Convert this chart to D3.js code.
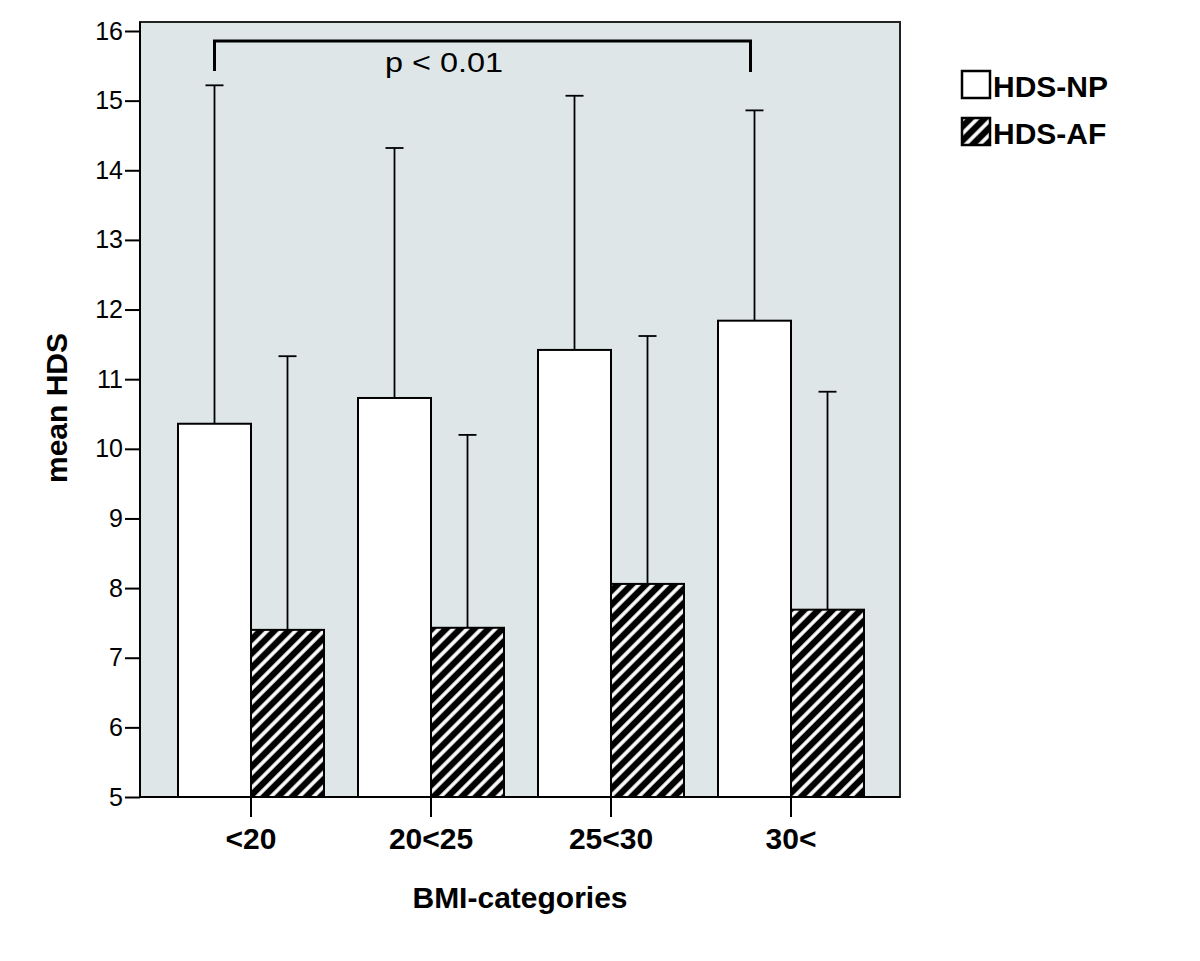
<!DOCTYPE html>
<html>
<head>
<meta charset="utf-8">
<script src="https://cdn.jsdelivr.net/npm/d3@7"></script>
<style>
  html, body { margin: 0; padding: 0; background: #ffffff; }
  svg { display: block; }
  text { font-family: "Liberation Sans", Arial, Helvetica, sans-serif; }
</style>
</head>
<body>
<svg id="chart" width="1200" height="961"></svg>
<script>
// ---- data ----
const categories = ["<20", "20<25", "25<30", "30<"];
const seriesNames = ["HDS-NP", "HDS-AF"];
const npMean  = [10.36, 10.73, 11.42, 11.84];
const npUpper = [15.22, 14.32, 15.07, 14.86];
const afMean  = [7.40, 7.43, 8.06, 7.69];
const afUpper = [11.33, 10.20, 11.62, 10.82];
const yTicks  = [5, 6, 7, 8, 9, 10, 11, 12, 13, 14, 15, 16];
const pLabel  = "p < 0.01";
const xTitle  = "BMI-categories";
const yTitle  = "mean HDS";

// ---- layout ----
const svg = d3.select("#chart");
const plot = { left: 140, right: 900, top: 22, bottom: 797 };
const y = d3.scaleLinear().domain([5, 16]).range([797, 31]);
const x = d3.scaleBand().domain(categories).range([161, 881]).paddingInner(0).paddingOuter(0);
const barW = 73;

// hatch pattern
const defs = svg.append("defs");
const pat = defs.append("pattern")
  .attr("id", "hatch").attr("patternUnits", "userSpaceOnUse")
  .attr("width", 10).attr("height", 10)
  .attr("patternTransform", "rotate(45)");
pat.append("rect").attr("width", 10).attr("height", 10).attr("fill", "#000");
pat.append("line").attr("x1", 5).attr("x2", 5).attr("y1", -1).attr("y2", 11)
  .attr("stroke", "#fff").attr("stroke-width", 3.6);

// plot background
svg.append("rect")
  .attr("x", plot.left).attr("y", plot.top)
  .attr("width", plot.right - plot.left).attr("height", plot.bottom - plot.top)
  .attr("fill", "#dee6e8").attr("stroke", "#222").attr("stroke-width", 2);

const data = categories.map((c, i) => ({
  cat: c,
  np: npMean[i], npU: npUpper[i],
  af: afMean[i], afU: afUpper[i]
}));

const center = c => x(c) + x.bandwidth() / 2;

// error bars (drawn first, bars cover lower part)
const errG = svg.append("g").attr("stroke", "#000").attr("stroke-width", 1.8);
data.forEach(d => {
  const pairs = [
    { cx: center(d.cat) - barW / 2, m: d.np, u: d.npU },
    { cx: center(d.cat) + barW / 2, m: d.af, u: d.afU }
  ];
  pairs.forEach(p => {
    errG.append("line").attr("x1", p.cx).attr("x2", p.cx).attr("y1", y(p.m)).attr("y2", y(p.u));
    errG.append("line").attr("x1", p.cx - 9).attr("x2", p.cx + 9).attr("y1", y(p.u)).attr("y2", y(p.u));
  });
});

// bars
svg.append("g").selectAll("rect.np").data(data).join("rect")
  .attr("x", d => center(d.cat) - barW)
  .attr("y", d => y(d.np))
  .attr("width", barW)
  .attr("height", d => y(5) - y(d.np))
  .attr("fill", "#fff").attr("stroke", "#000").attr("stroke-width", 2);

svg.append("g").selectAll("rect.af").data(data).join("rect")
  .attr("x", d => center(d.cat))
  .attr("y", d => y(d.af))
  .attr("width", barW)
  .attr("height", d => y(5) - y(d.af))
  .attr("fill", "url(#hatch)").attr("stroke", "#000").attr("stroke-width", 2);

// y axis
const yAxis = svg.append("g").attr("transform", `translate(${plot.left},0)`)
  .call(d3.axisLeft(y).tickValues(yTicks).tickSize(15).tickPadding(2).tickFormat(d3.format("d")));
yAxis.select(".domain").remove();
yAxis.selectAll(".tick line").attr("stroke", "#000").attr("stroke-width", 2);
yAxis.selectAll(".tick text").attr("font-size", 25).attr("fill", "#000")
  .style("font-family", '"Liberation Sans", Arial, sans-serif');

// x axis
const xAxis = svg.append("g").attr("transform", `translate(0,${plot.bottom})`)
  .call(d3.axisBottom(x).tickSize(20).tickPadding(12));
xAxis.select(".domain").remove();
xAxis.selectAll(".tick line").attr("stroke", "#000").attr("stroke-width", 2);
xAxis.selectAll(".tick text").attr("font-size", 30).attr("font-weight", "bold").attr("fill", "#000")
  .attr("dy", "0.65em")
  .style("font-family", '"Liberation Sans", Arial, sans-serif');

// bottom axis line over plot frame
svg.append("line").attr("x1", plot.left).attr("x2", plot.right)
  .attr("y1", plot.bottom).attr("y2", plot.bottom).attr("stroke", "#000").attr("stroke-width", 2);
svg.append("line").attr("x1", plot.left).attr("x2", plot.left)
  .attr("y1", plot.top).attr("y2", plot.bottom).attr("stroke", "#000").attr("stroke-width", 2);

// significance bracket
const bx1 = center(categories[0]) - barW / 2;
const bx2 = center(categories[3]) - barW / 2 - 4;
svg.append("path")
  .attr("d", `M${bx1},${71} V${41} H${bx2} V${72}`)
  .attr("fill", "none").attr("stroke", "#000").attr("stroke-width", 3);
svg.append("text").attr("x", 444).attr("y", 72).attr("text-anchor", "middle")
  .attr("font-size", 27).attr("textLength", 118).attr("lengthAdjust", "spacingAndGlyphs")
  .text(pLabel);

// axis titles
svg.append("text").attr("x", 520).attr("y", 908).attr("text-anchor", "middle")
  .attr("font-size", 30).attr("font-weight", "bold").text(xTitle);
svg.append("text").attr("transform", "translate(67,408) rotate(-90)")
  .attr("text-anchor", "middle").attr("font-size", 30).attr("font-weight", "bold").text(yTitle);

// legend
const legend = svg.append("g");
const legItems = [
  { name: seriesNames[0], fill: "#fff", y: 71 },
  { name: seriesNames[1], fill: "url(#hatch)", y: 118 }
];
legItems.forEach(it => {
  legend.append("rect").attr("x", 962).attr("y", it.y).attr("width", 28).attr("height", 27)
    .attr("fill", it.fill).attr("stroke", "#000").attr("stroke-width", 2.5);
  legend.append("text").attr("x", 993).attr("y", it.y + 26)
    .attr("font-size", 30).attr("font-weight", "bold").text(it.name);
});
</script>
</body>
</html>
